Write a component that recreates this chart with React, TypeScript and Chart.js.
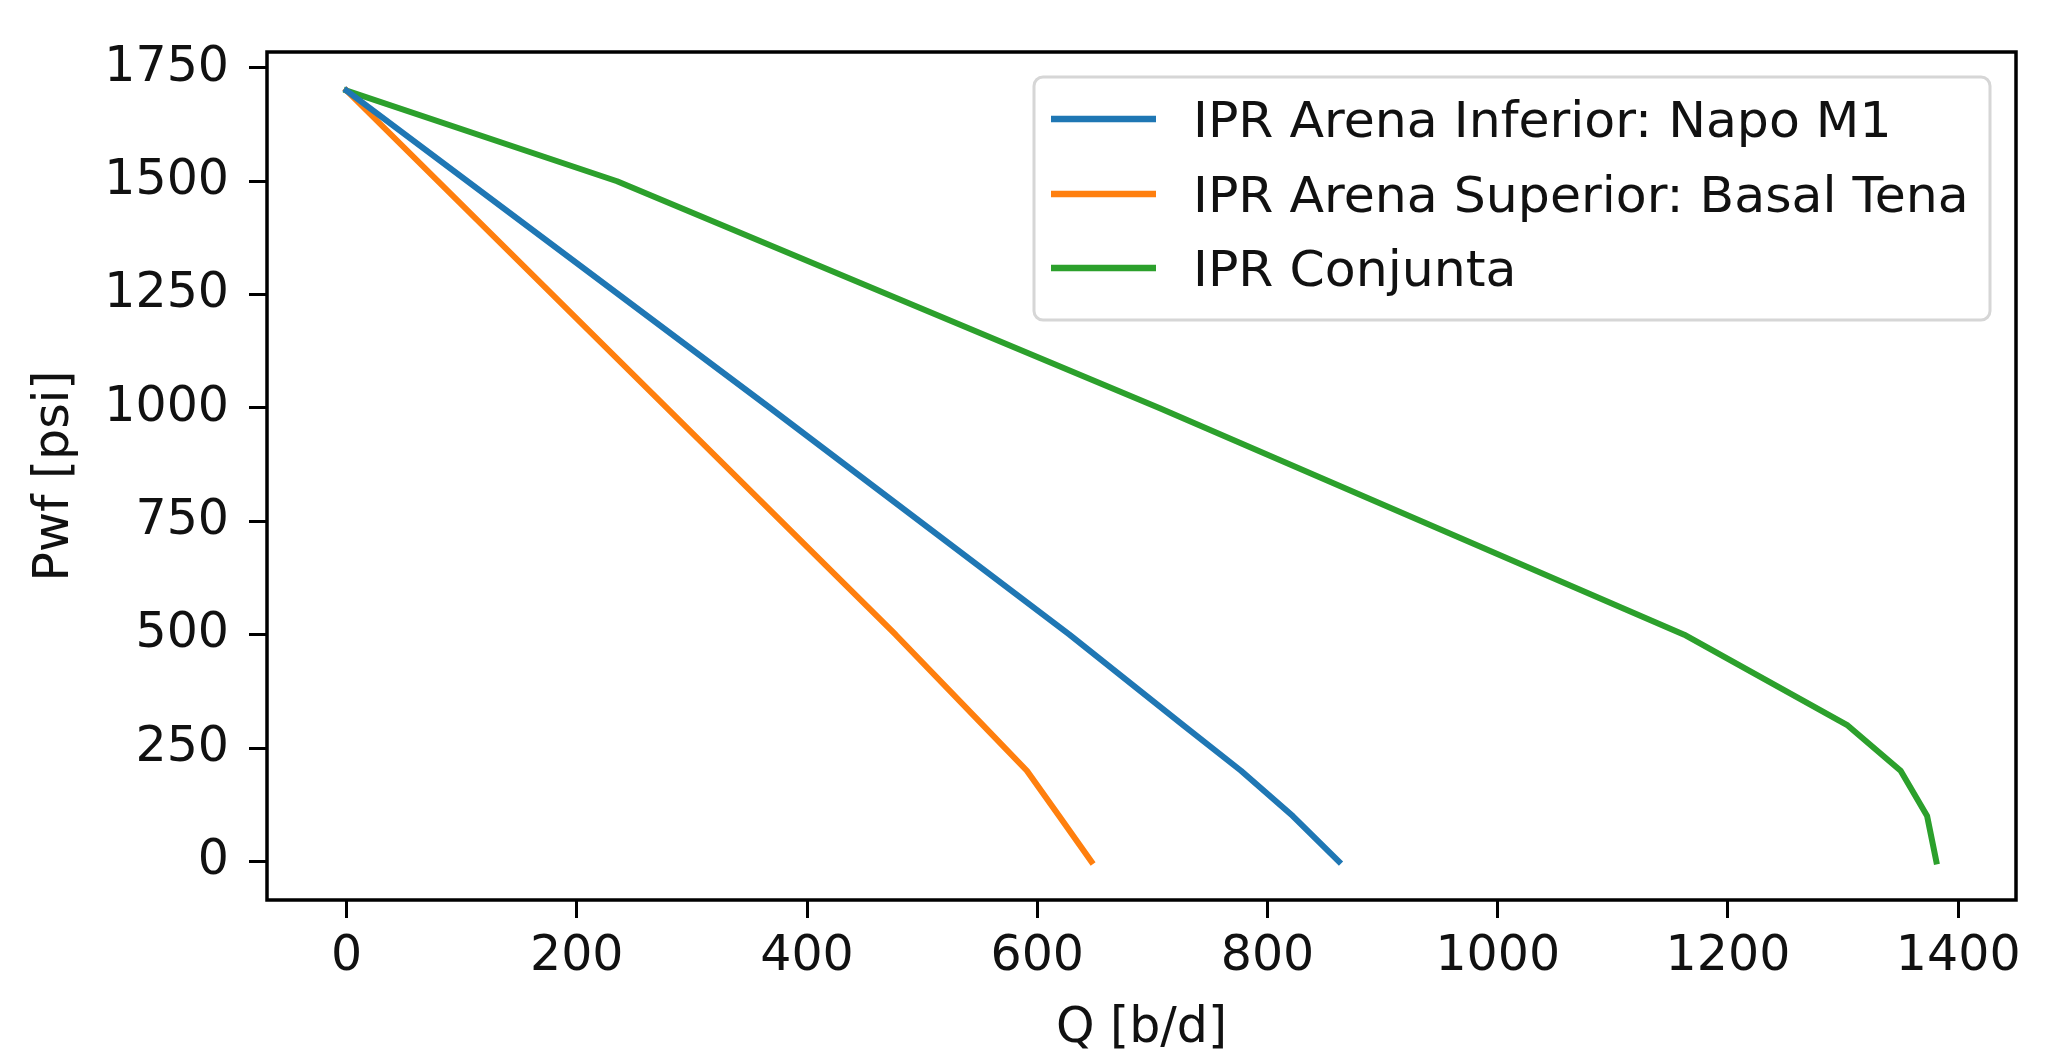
import React, { useEffect, useRef } from "react";
import { Chart, registerables } from "chart.js";

Chart.register(...registerables);

// ---- data (Q [b/d] vs Pwf [psi]) ----
const seriesLabels = [
  "IPR Arena Inferior: Napo M1",
  "IPR Arena Superior: Basal Tena",
  "IPR Conjunta",
];
const seriesColors = ["#1f77b4", "#ff7f0e", "#2ca02c"];

const pwfNapoM1 = [1700, 1000, 500, 300, 200, 100, 0];
const qNapoM1 = [0, 368, 628, 727, 777, 822, 862];

const pwfBasalTena = [1700, 500, 300, 200, 100, 0];
const qBasalTena = [0, 477, 553, 591, 619, 647];

const pwfConjunta = [1700, 1500, 1000, 500, 300, 200, 100, 0];
const qConjunta = [0, 235, 706, 1162, 1304, 1350, 1373, 1381];

const xTicks = [0, 200, 400, 600, 800, 1000, 1200, 1400];
const yTicks = [0, 250, 500, 750, 1000, 1250, 1500, 1750];

const xTitle = "Q [b/d]";
const yTitle = "Pwf [psi]";

const FONT = "DejaVu Sans";
const FS = 49;
const LEGEND_FS = 50.5;

const W = 2069;
const H = 1055;

function toPoints(qs: number[], ps: number[]) {
  return qs.map((q, i) => ({ x: q, y: ps[i] }));
}

const decorPlugin = {
  id: "decor",
  afterDatasetsDraw(chart: any) {
    const { ctx, chartArea } = chart;
    const { left, right, top, bottom } = chartArea;
    ctx.save();
    // spines
    ctx.strokeStyle = "#000";
    ctx.lineWidth = 3.5;
    ctx.lineJoin = "miter";
    ctx.strokeRect(left, top, right - left, bottom - top);

    // legend
    const bx = 1034, by = 77, bw = 956, bh = 243;
    ctx.beginPath();
    ctx.roundRect(bx, by, bw, bh, 9);
    ctx.fillStyle = "rgba(255,255,255,0.85)";
    ctx.fill();
    ctx.strokeStyle = "#d6d6d6";
    ctx.lineWidth = 3;
    ctx.stroke();

    const baselines = [137, 212, 286];
    ctx.font = `${LEGEND_FS}px "${FONT}"`;
    ctx.textAlign = "left";
    ctx.textBaseline = "alphabetic";
    chart.data.datasets.forEach((ds: any, i: number) => {
      const yb = baselines[i];
      ctx.strokeStyle = ds.borderColor;
      ctx.lineWidth = 6.5;
      ctx.lineCap = "butt";
      ctx.beginPath();
      ctx.moveTo(1051, yb - 18);
      ctx.lineTo(1156, yb - 18);
      ctx.stroke();
      ctx.fillStyle = "#111";
      ctx.fillText(ds.label, 1193, yb);
    });

    // axis titles
    ctx.font = `${FS}px "${FONT}"`;
    ctx.fillStyle = "#111";
    ctx.textAlign = "center";
    ctx.fillText(xTitle, (left + right) / 2, 1042);
    ctx.save();
    ctx.translate(68, (top + bottom) / 2);
    ctx.rotate(-Math.PI / 2);
    ctx.fillText(yTitle, 0, 0);
    ctx.restore();
    ctx.restore();
  },
};

export default function App() {
  const ref = useRef<HTMLCanvasElement | null>(null);

  useEffect(() => {
    if (!ref.current) return;
    const seriesQ = [qNapoM1, qBasalTena, qConjunta];
    const seriesP = [pwfNapoM1, pwfBasalTena, pwfConjunta];
    const chart = new Chart(ref.current, {
      type: "line",
      data: {
        datasets: seriesLabels.map((label, i) => ({
          label,
          data: toPoints(seriesQ[i], seriesP[i]),
          borderColor: seriesColors[i],
          backgroundColor: seriesColors[i],
          borderWidth: 6,
          pointRadius: 0,
          tension: 0,
          fill: false,
          borderCapStyle: "square",
          borderJoinStyle: "round",
        })),
      },
      options: {
        responsive: false,
        maintainAspectRatio: false,
        devicePixelRatio: 1,
        animation: false,
        layout: { padding: { top: 52, right: 53, left: 0, bottom: 0 } },
        plugins: {
          legend: { display: false },
          tooltip: { enabled: false },
          title: { display: false },
        },
        scales: {
          x: {
            type: "linear",
            min: -69.1,
            max: 1450.2,
            afterFit: (s: any) => {
              s.height = 155;
            },
            afterBuildTicks: (s: any) => {
              s.ticks = xTicks.map((v) => ({ value: v }));
            },
            border: { display: false },
            grid: {
              display: true,
              drawOnChartArea: false,
              drawTicks: true,
              tickLength: 18,
              tickWidth: 3,
              tickColor: "#000",
            },
            ticks: {
              color: "#111",
              font: { family: FONT, size: FS },
              padding: 10,
              maxRotation: 0,
              autoSkip: false,
              callback: (v: any) => String(v),
            },
          },
          y: {
            type: "linear",
            min: -85,
            max: 1785,
            afterFit: (s: any) => {
              s.width = 267;
            },
            afterBuildTicks: (s: any) => {
              s.ticks = yTicks.map((v) => ({ value: v }));
            },
            border: { display: false },
            grid: {
              display: true,
              drawOnChartArea: false,
              drawTicks: true,
              tickLength: 18,
              tickWidth: 3,
              tickColor: "#000",
            },
            ticks: {
              color: "#111",
              font: { family: FONT, size: FS },
              padding: 20,
              autoSkip: false,
              callback: (v: any) => String(v),
            },
          },
        },
      },
      plugins: [decorPlugin],
    } as any);
    return () => chart.destroy();
  }, []);

  return (
    <div style={{ position: "absolute", left: 0, top: 0, width: W, height: H, background: "#fff" }}>
      <canvas ref={ref} width={W} height={H} style={{ width: W, height: H, display: "block" }} />
    </div>
  );
}
